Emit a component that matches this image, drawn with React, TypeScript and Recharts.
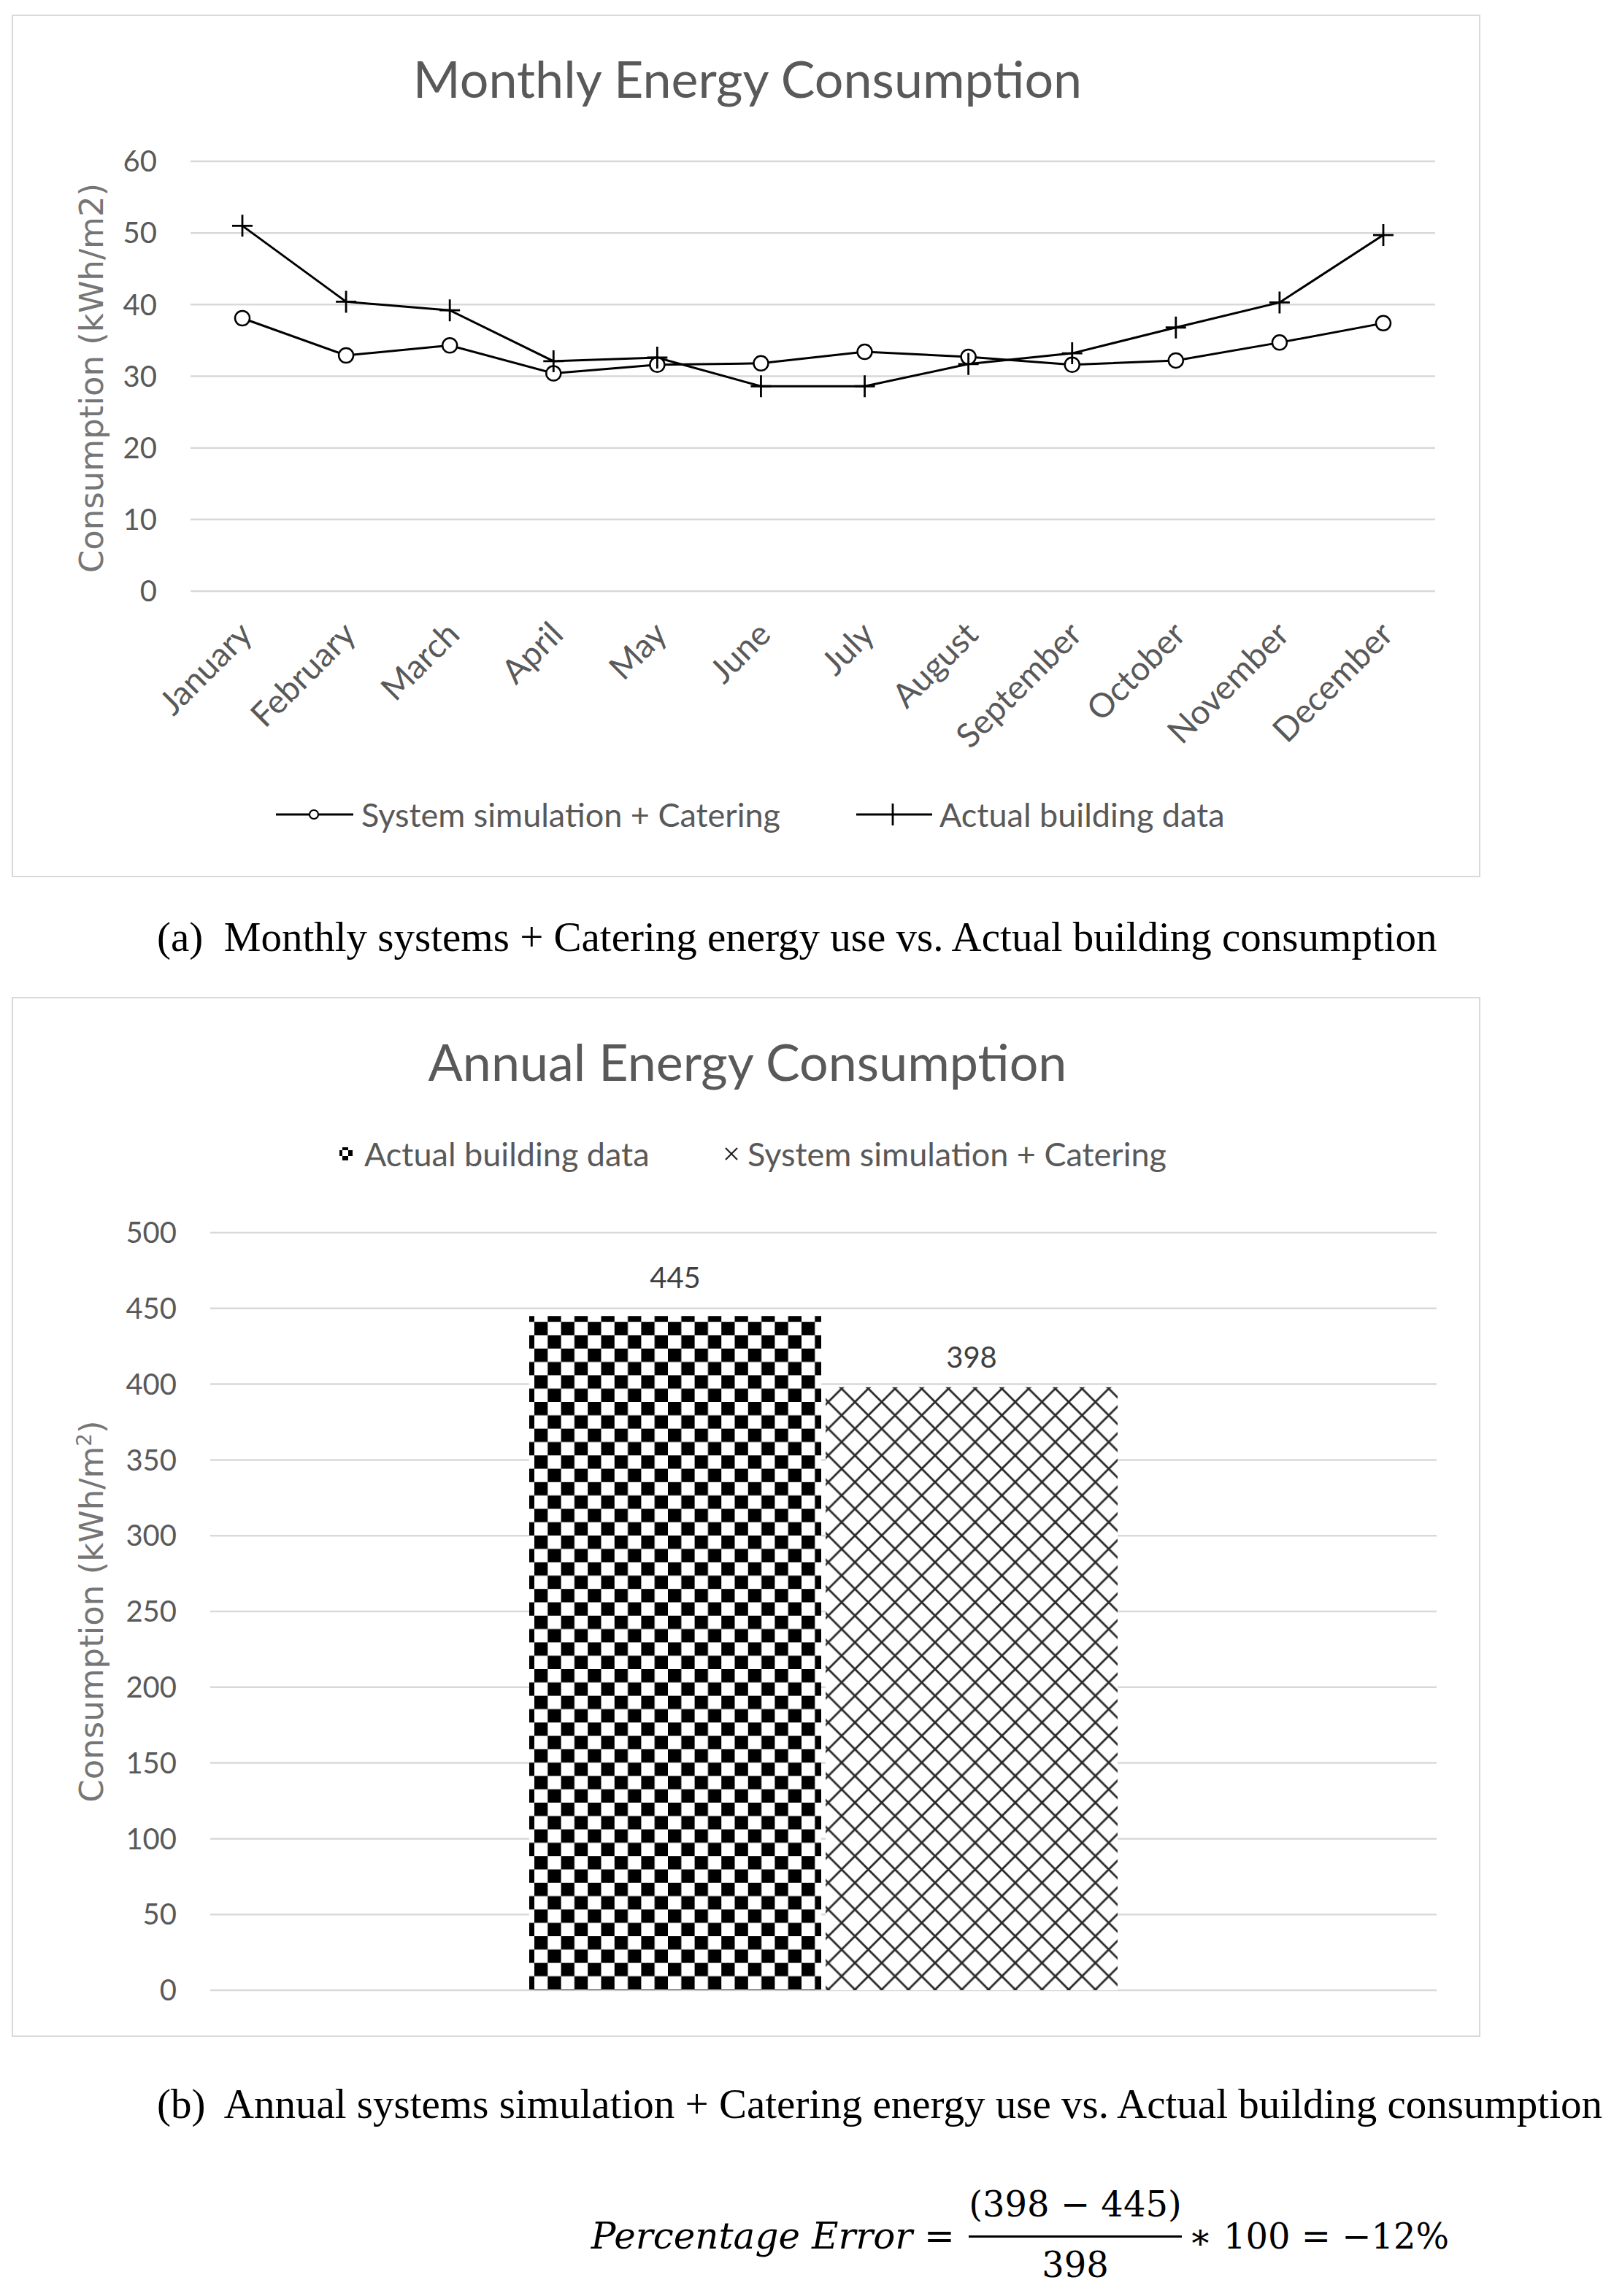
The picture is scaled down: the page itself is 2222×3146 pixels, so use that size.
import React from 'react'
import { LineChart, Line, BarChart, Bar, XAxis, YAxis, CartesianGrid, LabelList } from 'recharts'

// monthly chart
const months = [
  'January', 'February', 'March', 'April', 'May', 'June',
  'July', 'August', 'September', 'October', 'November', 'December',
]
const systemSimulation = [38.1, 32.9, 34.3, 30.4, 31.6, 31.8, 33.4, 32.7, 31.6, 32.2, 34.7, 37.4]
const actualBuilding = [51.0, 40.4, 39.2, 32.1, 32.6, 28.6, 28.6, 31.7, 33.2, 36.8, 40.3, 49.7]
const monthlyTicks = [0, 10, 20, 30, 40, 50, 60]

// annual chart
const annualCategories = ['Annual']
const annualActual = [445]
const annualSimulation = [398]
const annualTicks = [0, 50, 100, 150, 200, 250, 300, 350, 400, 450, 500]

const monthlyData = months.map((month, i) => ({
  month,
  simulation: systemSimulation[i],
  actual: actualBuilding[i],
}))

const annualData = annualCategories.map((name, i) => ({
  name,
  actual: annualActual[i],
  simulation: annualSimulation[i],
}))

const GRID = '#d9d9d9'
const AXIS_TEXT = '#595959'
const SANS = 'Lato, "Open Sans", sans-serif'
const SERIF = '"Liberation Serif", "Times New Roman", serif'
const MATH = '"DejaVu Serif", serif'

function CircleDot(props: any) {
  const { cx, cy } = props
  if (cx == null || cy == null) return null
  return <circle cx={cx} cy={cy} r={10} fill="#fff" stroke="#000" strokeWidth={2.5} />
}

function PlusDot(props: any) {
  const { cx, cy } = props
  if (cx == null || cy == null) return null
  return (
    <path
      d={`M${cx - 14},${cy}H${cx + 14}M${cx},${cy - 15}V${cy + 15}`}
      stroke="#000"
      strokeWidth={2.8}
      fill="none"
    />
  )
}

function MonthTick(props: any) {
  const { x, y, payload } = props
  return (
    <g transform={`translate(${x + 16},${y + 62})`}>
      <text transform="rotate(-45)" textAnchor="end" fill={AXIS_TEXT} fontFamily={SANS} fontSize={46}>
        {payload.value}
      </text>
    </g>
  )
}

const abs = (left: number, top: number, extra: React.CSSProperties = {}): React.CSSProperties => ({
  position: 'absolute',
  left,
  top,
  whiteSpace: 'pre',
  lineHeight: 1,
  ...extra,
})

export default function App() {
  return (
    <div style={{ position: 'absolute', left: 0, top: 0, width: 2222, height: 3146, background: '#fff', overflow: 'hidden' }}>
      <svg width={0} height={0} style={{ position: 'absolute' }}>
        <defs>
          <pattern id="checker" width={36.6} height={36.6} patternUnits="userSpaceOnUse">
            <rect width={36.6} height={36.6} fill="#fff" />
            <rect x={0} y={0} width={18.3} height={18.3} fill="#000" />
            <rect x={18.3} y={18.3} width={18.3} height={18.3} fill="#000" />
          </pattern>
          <pattern id="crosshatch" width={36.6} height={36.6} patternUnits="userSpaceOnUse">
            <rect width={36.6} height={36.6} fill="#fff" />
            <path d="M-2,-2L38.6,38.6M38.6,-2L-2,38.6" stroke="#2a2a2a" strokeWidth={2.8} />
          </pattern>
          <pattern id="checkerSmall" width={16} height={16} patternUnits="userSpaceOnUse">
            <rect width={16} height={16} fill="#fff" />
            <rect x={8} y={0} width={8} height={8} fill="#000" />
            <rect x={0} y={8} width={8} height={8} fill="#000" />
          </pattern>
        </defs>
      </svg>

      {/* (a) monthly */}
      <div style={{ position: 'absolute', left: 16, top: 20, width: 2012, height: 1182, border: `2px solid ${GRID}`, boxSizing: 'border-box' }} />
      <div style={abs(1024, 107, { transform: 'translate(-50%,-50%)', fontFamily: SANS, fontSize: 70, color: AXIS_TEXT })}>
        Monthly Energy Consumption
      </div>
      <div style={abs(125, 518, { transform: 'translate(-50%,-50%) rotate(-90deg)', fontFamily: '"DejaVu Sans", Verdana, sans-serif', fontSize: 45, color: '#767676' })}>
        Consumption (kWh/m2)
      </div>
      <div style={{ position: 'absolute', left: 0, top: 0 }}>
        <LineChart width={2222} height={1250} data={monthlyData} margin={{ top: 221, right: 256, bottom: 240, left: 201 }}>
          <CartesianGrid vertical={false} stroke={GRID} strokeWidth={2.5} />
          <XAxis
            dataKey="month"
            interval={0}
            height={200}
            padding={{ left: 71, right: 71 }}
            axisLine={false}
            tickLine={false}
            tickSize={0}
            tickMargin={0}
            tick={<MonthTick />}
          />
          <YAxis
            domain={[0, 60]}
            ticks={monthlyTicks}
            interval={0}
            width={60}
            axisLine={false}
            tickLine={false}
            tickSize={0}
            tickMargin={46}
            tick={{ fill: AXIS_TEXT, fontSize: 40, fontFamily: SANS }}
          />
          <Line dataKey="simulation" type="linear" stroke="#000" strokeWidth={3} dot={<CircleDot />} isAnimationActive={false} />
          <Line dataKey="actual" type="linear" stroke="#000" strokeWidth={3} dot={<PlusDot />} isAnimationActive={false} />
        </LineChart>
      </div>
      {/* legend (a) */}
      <svg style={{ position: 'absolute', left: 370, top: 1094 }} width={120} height={44}>
        <line x1={8} y1={22} x2={114} y2={22} stroke="#000" strokeWidth={2.8} />
        <circle cx={60} cy={22} r={6} fill="#fff" stroke="#000" strokeWidth={2.2} />
      </svg>
      <div style={abs(495, 1116, { transform: 'translateY(-50%)', fontFamily: SANS, fontSize: 45, color: AXIS_TEXT })}>
        System simulation + Catering
      </div>
      <svg style={{ position: 'absolute', left: 1166, top: 1094 }} width={120} height={44}>
        <line x1={7} y1={22} x2={111} y2={22} stroke="#000" strokeWidth={2.8} />
        <path d="M57,7V37" stroke="#000" strokeWidth={2.8} />
      </svg>
      <div style={abs(1287, 1116, { transform: 'translateY(-50%)', fontFamily: SANS, fontSize: 45, color: AXIS_TEXT })}>
        Actual building data
      </div>

      <div style={abs(215, 1283, { transform: 'translateY(-50%)', fontFamily: SERIF, fontSize: 57, color: '#000' })}>
        {'(a)  Monthly systems + Catering energy use vs. Actual building consumption'}
      </div>

      {/* (b) annual */}
      <div style={{ position: 'absolute', left: 16, top: 1366, width: 2012, height: 1425, border: `2px solid ${GRID}`, boxSizing: 'border-box' }} />
      <div style={abs(1024, 1454, { transform: 'translate(-50%,-50%)', fontFamily: SANS, fontSize: 70, color: AXIS_TEXT })}>
        Annual Energy Consumption
      </div>
      <svg style={{ position: 'absolute', left: 461, top: 1568 }} width={26} height={26}>
        <rect x={4} y={4} width={18} height={18} fill="url(#checkerSmall)" />
      </svg>
      <div style={abs(499, 1581, { transform: 'translateY(-50%)', fontFamily: SANS, fontSize: 45, color: AXIS_TEXT })}>
        Actual building data
      </div>
      <svg style={{ position: 'absolute', left: 989, top: 1568 }} width={26} height={26}>
        <path d="M5,5L21,21M21,5L5,21" stroke="#222" strokeWidth={2.2} />
      </svg>
      <div style={abs(1024, 1581, { transform: 'translateY(-50%)', fontFamily: SANS, fontSize: 45, color: AXIS_TEXT })}>
        System simulation + Catering
      </div>
      <div style={abs(125, 2208, { transform: 'translate(-50%,-50%) rotate(-90deg)', fontFamily: '"DejaVu Sans", Verdana, sans-serif', fontSize: 45, color: '#767676' })}>
        Consumption (kWh/m<sup style={{ fontSize: 28 }}>2</sup>)
      </div>
      <div style={{ position: 'absolute', left: 0, top: 1372 }}>
        <BarChart
          width={2222}
          height={1428}
          data={annualData}
          margin={{ top: 317, right: 254, bottom: 73, left: 228 }}
          barCategoryGap={437}
          barGap={6}
        >
          <CartesianGrid vertical={false} stroke={GRID} strokeWidth={2.5} />
          <XAxis dataKey="name" hide />
          <YAxis
            domain={[0, 500]}
            ticks={annualTicks}
            interval={0}
            width={60}
            axisLine={false}
            tickLine={false}
            tickSize={0}
            tickMargin={46}
            tick={{ fill: AXIS_TEXT, fontSize: 40, fontFamily: SANS }}
          />
          <Bar dataKey="actual" fill="url(#checker)" isAnimationActive={false}>
            <LabelList dataKey="actual" position="top" offset={38} fill="#404040" fontSize={40} fontFamily={SANS} />
          </Bar>
          <Bar dataKey="simulation" fill="url(#crosshatch)" isAnimationActive={false}>
            <LabelList dataKey="simulation" position="top" offset={27} fill="#404040" fontSize={40} fontFamily={SANS} />
          </Bar>
        </BarChart>
      </div>

      <div style={abs(215, 2882, { transform: 'translateY(-50%)', fontFamily: SERIF, fontSize: 57, color: '#000' })}>
        {'(b)  Annual systems simulation + Catering energy use vs. Actual building consumption'}
      </div>

      {/* percentage error */}
      <div style={abs(1308, 3064, { transform: 'translate(-100%,-50%)', fontFamily: MATH, fontSize: 50, color: '#000' })}>
        <i>Percentage Error</i>{' ='}
      </div>
      <div style={abs(1473, 3020, { transform: 'translate(-50%,-50%)', fontFamily: MATH, fontSize: 48, color: '#000' })}>
        {'(398 \u2212 445)'}
      </div>
      <div style={{ position: 'absolute', left: 1327, top: 3063, width: 292, height: 3, background: '#000' }} />
      <div style={abs(1473, 3103, { transform: 'translate(-50%,-50%)', fontFamily: MATH, fontSize: 48, color: '#000' })}>
        398
      </div>
      <div style={abs(1628, 3064, { transform: 'translateY(-50%)', fontFamily: MATH, fontSize: 48, color: '#000' })}>
        {'\u2217 100 = \u221212%'}
      </div>
    </div>
  )
}
